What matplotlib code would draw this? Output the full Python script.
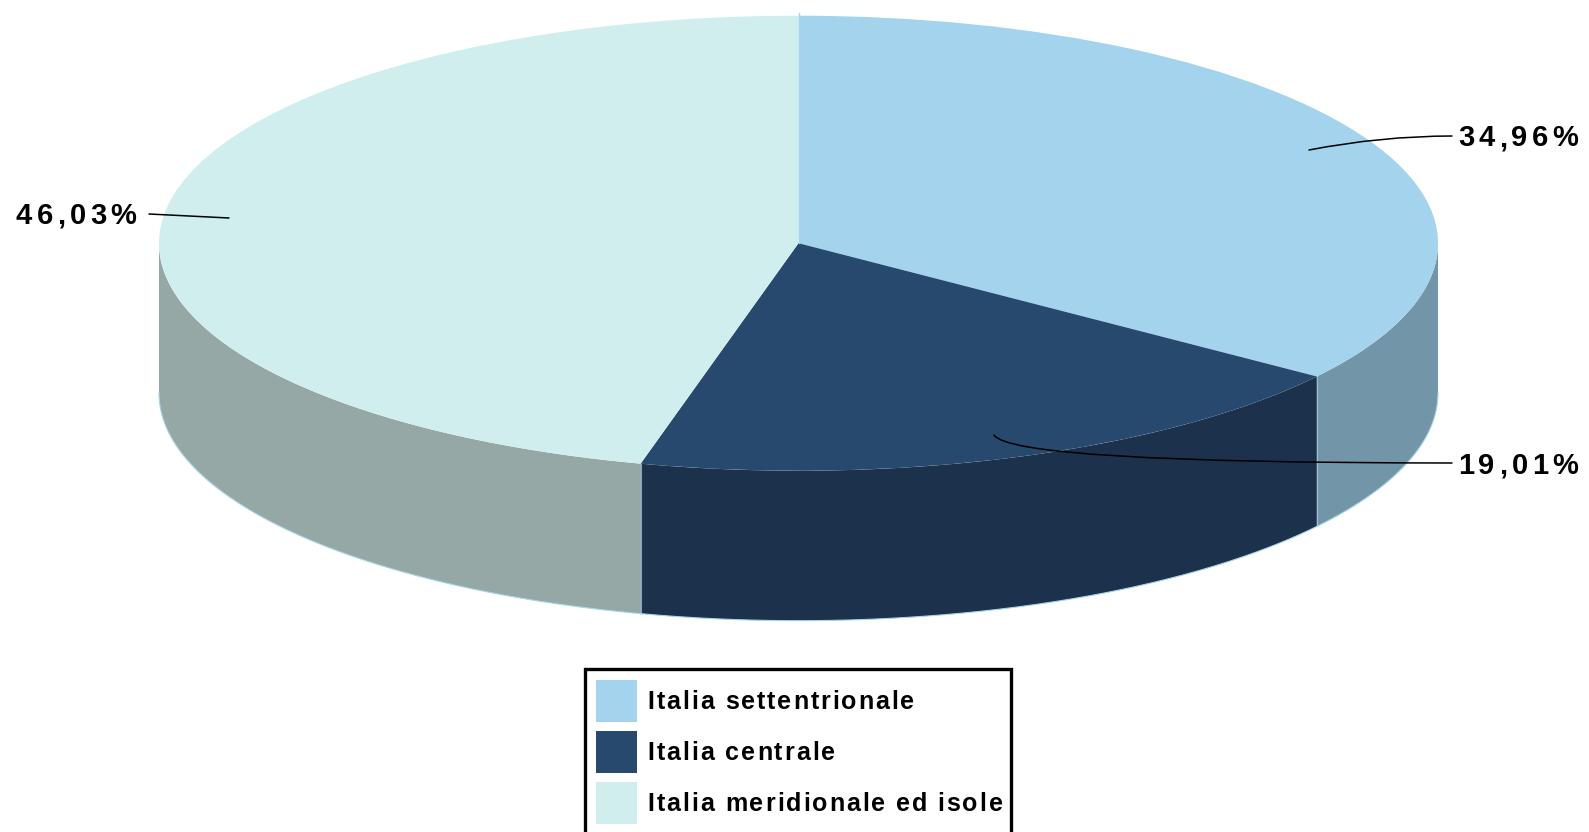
# Italia pie chart, drawn flat with a fake 3D wall below it
import numpy as np
import matplotlib
matplotlib.use("Agg")
import matplotlib.pyplot as plt
from matplotlib.font_manager import FontProperties, findfont, get_font
from matplotlib.ft2font import LoadFlags
from matplotlib.patches import Patch
from matplotlib.text import Text
from matplotlib.transforms import IdentityTransform

categories = ["Italia settentrionale", "Italia centrale", "Italia meridionale ed isole"]
values = [34.96, 19.01, 46.03]
value_labels = ["34,96%", "19,01%", "46,03%"]
top_colors = ["#A4D3EE", "#27496D", "#D1EEEE"]
wall_colors = ["#7395A8", "#1C324C", "#95A8A6"]

W, H = 1589, 832
CX, CY, RX, RY = 798.5, 243.2, 639.5, 227.5
DEPTH = 150 / RY
EDGE = "#A9D6E8"


class TrackedText(Text):
    """Text drawn with extra letter spacing, matplotlib has no option for it."""
    tracking = 4.3

    def draw(self, renderer):
        x, y = self.get_transform().transform(self.get_unitless_position())
        fp = self.get_fontproperties()
        dpi = self.get_figure().dpi
        font = get_font(findfont(fp))
        font.set_size(fp.get_size_in_points(), dpi)
        for ch in self.get_text():
            t = Text(x, y, ch, transform=IdentityTransform(), fontproperties=fp,
                     color=self.get_color(), va="baseline", ha="left")
            t.set_figure(self.get_figure())
            t.draw(renderer)
            adv = font.load_char(ord(ch), flags=LoadFlags.NO_HINTING).linearHoriAdvance / 65536
            x += adv + self.tracking


def px(x, y):
    """Reference pixel to figure pixels (y goes up)."""
    return x, H - y


fig = plt.figure(figsize=(W / 100, H / 100), dpi=100)
ax = fig.add_axes([0, 0, 1, 1])

# Top face, the axes limits squash the circle into the ellipse
wedges, _ = ax.pie(values, colors=top_colors, startangle=90, counterclock=False, radius=1,
                   wedgeprops=dict(linewidth=0), labels=None)
ax.set_aspect("auto")
ax.set_xlim(-CX / RX, (W - CX) / RX)
ax.set_ylim((CY - H) / RY, CY / RY)
ax.axis("off")
for w in wedges:
    w.set_zorder(3)

# Wall: the part of every slice between 3 o'clock and 9 o'clock (clockwise from 12)
edges = np.cumsum([0] + values) / 100 * 360
for i in range(len(values)):
    a = max(edges[i], 90)
    b = min(edges[i + 1], 270)
    if b <= a:
        continue
    t = np.radians(np.linspace(a, b, 200))
    xs = np.sin(t)
    ys = np.cos(t)
    ax.fill(np.r_[xs, xs[::-1]], np.r_[ys, ys[::-1] - DEPTH], facecolor=wall_colors[i],
            edgecolor="none", zorder=2)
    ax.plot(xs, ys - DEPTH, color=EDGE, lw=0.8, zorder=2.5)
    if edges[i] > 90:
        ax.plot([xs[0], xs[0]], [ys[0], ys[0] - DEPTH], color=EDGE, lw=0.8, alpha=0.7, zorder=2.5)

# Seam above the top of the ellipse
ax.plot([0, 0], [1, 1 + 3 / RY], color="#A4D3EE", lw=1, zorder=2)
ax.plot([0, 0], [0, 1], color=EDGE, lw=0.8, zorder=3.5)

# Value labels
label_pos = [(1458, 146.5), (1458, 474), (16, 224)]
for text, (x, y) in zip(value_labels, label_pos):
    x, y = px(x, y)
    t = TrackedText(x, y, text, transform=IdentityTransform(),
                    fontproperties=FontProperties(family="Liberation Sans", weight="bold", size=21),
                    color="black")
    t.set_va("baseline")
    ax.add_artist(t)

# Leader lines
leaders = [
    ((1309, 150), (1452, 136), "angle3,angleA=0,angleB=11"),
    ((994, 435), (1452, 463), "angle3,angleA=0,angleB=-57"),
    ((229, 218), (149, 214), "arc3,rad=0"),
]
for end, start, style in leaders:
    ax.annotate("", xy=px(*end), xytext=px(*start), xycoords="figure pixels",
                textcoords="figure pixels", zorder=5,
                arrowprops=dict(arrowstyle="-", connectionstyle=style, color="black",
                                lw=1.1, shrinkA=0, shrinkB=0))

# Legend, runs off the bottom of the picture
handles = [Patch(facecolor=c, edgecolor="none") for c in top_colors]
left, right, top = 584.5, 1010.5, 669
fs = 18
fs_px = fs * 100 / 72
leg = fig.legend(handles, categories, loc="upper left", mode="expand",
                 bbox_to_anchor=(left / W, 1 - top / H - 0.3, (right - left) / W, 0.3),
                 borderaxespad=0, fancybox=False, framealpha=1, edgecolor="black",
                 prop=FontProperties(family="Liberation Sans", weight="bold", size=fs),
                 handlelength=41 / fs_px, handleheight=2.18, handletextpad=11 / fs_px,
                 labelspacing=9.5 / fs_px, borderpad=11 / fs_px)
leg.get_frame().set_linewidth(2.4)
for t in leg.get_texts():
    t.__class__ = TrackedText
    t.tracking = 1.95

fig.savefig("out.png", dpi=100, facecolor="white")
